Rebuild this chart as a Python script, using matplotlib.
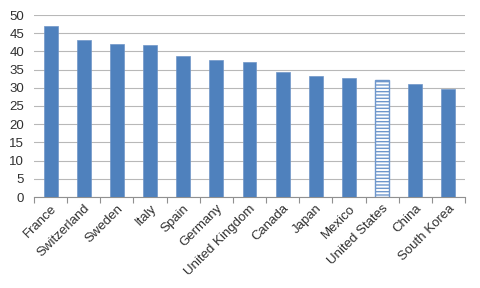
import matplotlib

matplotlib.use('Agg')
import matplotlib.pyplot as plt
import numpy as np

countries = ['France', 'Switzerland', 'Sweden', 'Italy', 'Spain', 'Germany',
             'United Kingdom', 'Canada', 'Japan', 'Mexico', 'United States',
             'China', 'South Korea']
values = [47.1, 43.2, 42.0, 41.8, 38.7, 37.6, 37.1, 34.3, 33.2, 32.6, 32.2, 31.1, 29.6]
y_ticks = [0, 5, 10, 15, 20, 25, 30, 35, 40, 45, 50]
highlight = 'United States'

plt.rcParams['font.family'] = ['Liberation Sans', 'DejaVu Sans']
plt.rcParams['hatch.linewidth'] = 1.0

fig = plt.figure(figsize=(4.8, 2.88), dpi=100, facecolor='white')
ax = fig.add_axes([34 / 480, 1 - 197 / 288, 431 / 480, 182 / 288])

x = np.arange(len(countries))
for i, (name, v) in enumerate(zip(countries, values)):
    if name == highlight:
        plt.rcParams['hatch.color'] = '#4f81bd'
        ax.bar(i, v, width=0.42, color='white', edgecolor='#6f97cc',
               linewidth=1.0, hatch='-----', zorder=3)
    else:
        ax.bar(i, v, width=0.42, color='#4f81bd', edgecolor='#7096c8',
               linewidth=0.5, zorder=3)

ax.set_xlim(-0.5, len(countries) - 0.5)
ax.set_ylim(0, 50)
ax.set_yticks(y_ticks)
ax.tick_params(axis='y', length=0, labelsize=9.5, pad=7, labelcolor='#303030')
ax.grid(axis='y', color='#b8b8b8', linewidth=0.8)
ax.set_axisbelow(True)

ax.set_xticks(x)
ax.set_xticklabels(countries, rotation=45, ha='right', rotation_mode='anchor',
                   fontsize=9.5, color='#303030')
ax.tick_params(axis='x', length=0, pad=4)
ax.set_xticks(np.arange(-0.5, len(countries)), minor=True)
ax.tick_params(axis='x', which='minor', length=4, color='#909090', width=0.8)

for side in ['top', 'right', 'left']:
    ax.spines[side].set_visible(False)
ax.spines['bottom'].set_color('#909090')
ax.spines['bottom'].set_linewidth(0.8)

fig.savefig('out.png', dpi=100, facecolor='white')
